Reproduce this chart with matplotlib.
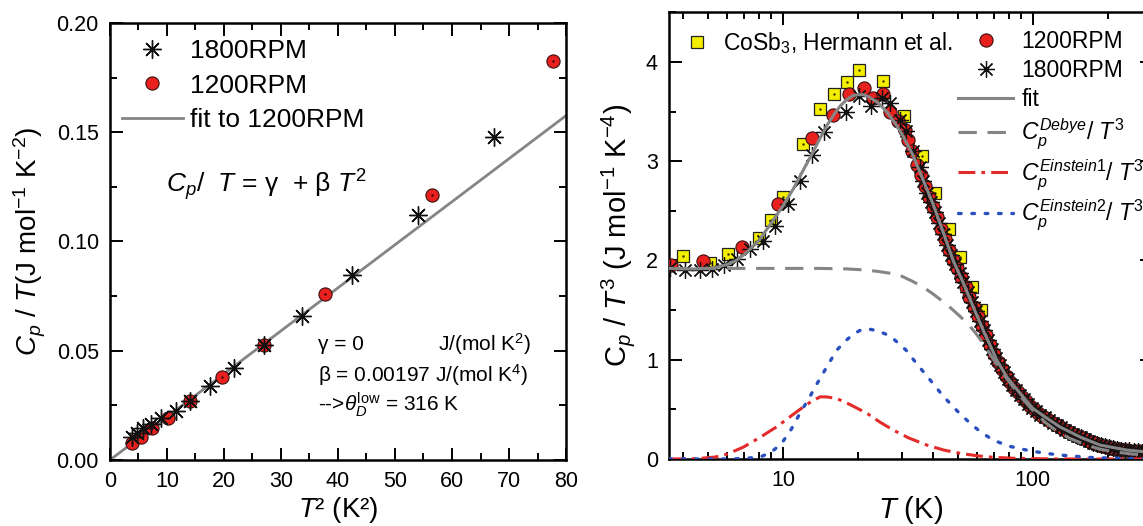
import matplotlib
matplotlib.use("Agg")
import matplotlib.pyplot as plt
from matplotlib.ticker import (MultipleLocator, LogLocator, NullFormatter, FixedLocator,
                               FixedFormatter, FormatStrFormatter)

plt.rcParams["font.family"] = ["Liberation Sans", "DejaVu Sans"]
plt.rcParams["mathtext.fontset"] = "custom"
plt.rcParams["mathtext.rm"] = "Liberation Sans"
plt.rcParams["mathtext.it"] = "Liberation Sans:italic"
plt.rcParams["mathtext.bf"] = "Liberation Sans:bold"
plt.rcParams["axes.linewidth"] = 1.8

# Left panel: Cp/T against T^2 at low temperature
t2_1800 = [3.9, 4.8, 5.8, 7.2, 9.0, 11.6, 14.0, 17.5, 21.8, 27.0, 33.7, 42.5, 54.1, 67.4]
cpt_1800 = [0.0105, 0.0122, 0.0145, 0.0165, 0.0190, 0.0226, 0.0271, 0.0339, 0.0421,
            0.0526, 0.0660, 0.0846, 0.1123, 0.1477]
t2_1200 = [3.9, 5.5, 7.4, 10.2, 14.0, 19.6, 27.1, 37.8, 56.5, 77.8]
cpt_1200 = [0.0077, 0.0107, 0.0145, 0.0194, 0.0270, 0.0378, 0.0526, 0.0758, 0.1212, 0.1828]
fit_t2 = [0.0, 80.0]
fit_cpt = [0.0, 0.1576]

# Right panel: Cp/T^3 against T
t_hermann = [4.0, 5.1, 6.05, 8.0, 9.0, 10.0, 12.0, 14.1, 15.95, 18.1, 20.2, 25.1, 30.4,
             35.9, 40.6, 46.0, 51.2, 57.0, 61.9]
c_hermann = [2.04, 1.97, 2.07, 2.23, 2.41, 2.64, 3.17, 3.53, 3.68, 3.80, 3.92, 3.81, 3.46,
             3.05, 2.68, 2.32, 2.03, 1.73, 1.50]

t_1200 = [3.55, 4.8, 6.85, 9.6, 13.1, 15.85, 18.3, 21.1, 23.0, 25.1, 26.9, 29.0, 30.8, 31.8,
          33.0, 34.3, 35.6, 37.0, 38.4, 39.9, 41.4, 43.0, 44.6, 46.3, 48.1, 49.9, 51.8, 53.8,
          55.8, 57.9, 60.1, 62.4, 64.8, 67.3, 69.8, 72.5, 75.2, 78.1, 81.1, 84.2, 87.4, 90.7,
          94.1, 97.7, 101.4, 105.3, 109.3, 113.4, 117.7, 122.2, 126.8, 131.6, 136.6, 141.8,
          147.2, 152.8, 158.6, 164.6, 170.9, 177.4, 184.1, 191.1, 198.4, 205.9, 213.7, 221.8,
          230.2, 239.0, 248.0, 257.5, 267.2, 277.4, 288.0, 299.0]
c_1200 = [1.95, 1.99, 2.14, 2.57, 3.23, 3.47, 3.68, 3.74, 3.64, 3.68, 3.50, 3.41, 3.31, 3.21,
          3.10, 2.96, 2.86, 2.75, 2.64, 2.54, 2.44, 2.32, 2.22, 2.11, 2.00, 1.92, 1.83, 1.73,
          1.63, 1.53, 1.44, 1.34, 1.25, 1.15, 1.06, 0.98, 0.91, 0.84, 0.78, 0.72, 0.67, 0.62,
          0.58, 0.53, 0.50, 0.46, 0.43, 0.41, 0.38, 0.355, 0.33, 0.305, 0.285, 0.265,
          0.245, 0.226, 0.208, 0.19, 0.173, 0.158, 0.143, 0.131, 0.121, 0.112, 0.104, 0.097,
          0.092, 0.088, 0.084, 0.080, 0.076, 0.073, 0.070, 0.067]

t_1800 = [3.52, 4.07, 4.64, 5.2, 5.83, 6.54, 7.4, 8.36, 9.31, 10.5, 11.66, 13.06, 14.54, 17.9,
          20.2, 22.5, 24.9, 26.9, 29.4, 31.2, 33.3, 35.4, 36.4, 37.7, 39.1, 40.6, 42.2, 43.8,
          45.5, 47.2, 49.0, 50.9, 52.8, 54.8, 56.9, 59.0, 61.3, 63.6, 66.0, 68.6, 71.2, 73.9,
          76.7, 79.6, 82.7, 85.8, 89.0, 92.4, 95.9, 99.6, 103.4, 107.3, 111.4, 115.6, 120.0,
          124.6, 129.3, 134.2, 139.3, 144.6, 150.1, 155.8, 161.7, 167.8, 174.2, 180.8, 187.7,
          194.8, 202.2, 209.9, 217.9, 226.2, 234.8, 243.7, 253.0, 262.6, 272.6, 283.0, 293.8]
c_1800 = [1.92, 1.905, 1.90, 1.915, 1.95, 2.01, 2.12, 2.20, 2.35, 2.57, 2.80, 3.06, 3.29, 3.50,
          3.66, 3.56, 3.64, 3.59, 3.42, 3.30, 3.105, 2.94, 2.80, 2.68, 2.59, 2.49, 2.38, 2.27,
          2.16, 2.06, 1.96, 1.87, 1.78, 1.68, 1.58, 1.49, 1.39, 1.30, 1.20, 1.11, 1.02, 0.95,
          0.875, 0.81, 0.75, 0.70, 0.645, 0.60, 0.555, 0.515, 0.48, 0.445, 0.42, 0.395, 0.365,
          0.34, 0.32, 0.295, 0.275, 0.255, 0.235, 0.217, 0.199, 0.181, 0.165, 0.15, 0.137,
          0.126, 0.116, 0.108, 0.10, 0.094, 0.09, 0.086, 0.082, 0.078, 0.075, 0.071, 0.068]

t_fit = [3.5, 4.0, 4.5, 5.0, 5.5, 6.0, 6.5, 7.0, 7.5, 8.0, 9.0, 10.0, 11.0, 12.0, 13.0, 14.0,
         15.0, 16.0, 17.0, 18.0, 19.0, 20.0, 21.0, 22.0, 24.0, 26.0, 28.0, 30.0, 33.0, 36.0,
         40.0, 44.0, 48.0, 53.0, 58.0, 64.0, 72.0, 79.0, 89.0, 100.0, 114.0, 128.0, 155.0,
         186.0, 238.0, 300.0]
c_fit = [1.92, 1.915, 1.915, 1.92, 1.935, 1.96, 2.0, 2.06, 2.13, 2.2, 2.38, 2.55, 2.72, 2.9,
         3.06, 3.22, 3.36, 3.47, 3.56, 3.62, 3.66, 3.67, 3.67, 3.65, 3.59, 3.5, 3.39, 3.27,
         3.07, 2.84, 2.56, 2.27, 2.0, 1.76, 1.52, 1.27, 0.99, 0.82, 0.66, 0.51, 0.41, 0.325,
         0.22, 0.14, 0.09, 0.065]

t_debye = [3.5, 5.0, 7.0, 10.0, 14.0, 18.0, 21.0, 24.0, 27.0, 30.0, 33.0, 36.5, 40.0, 43.5,
           47.0, 51.0, 55.0, 59.0, 63.0, 67.0, 71.0, 76.0, 82.0, 90.0, 100.0, 112.0, 125.0,
           140.0, 160.0, 185.0, 215.0, 250.0, 300.0]
c_debye = [1.92, 1.92, 1.92, 1.92, 1.92, 1.915, 1.905, 1.89, 1.87, 1.84, 1.79, 1.73, 1.66,
           1.59, 1.52, 1.44, 1.36, 1.27, 1.17, 1.07, 0.97, 0.86, 0.75, 0.62, 0.49, 0.37,
           0.28, 0.21, 0.15, 0.10, 0.07, 0.05, 0.033]

t_ein1 = [3.5, 4.5, 5.36, 6.0, 6.95, 8.0, 9.46, 11.0, 12.1, 13.0, 14.1, 15.0, 16.4, 18.5,
          21.7, 24.5, 27.7, 32.0, 37.7, 44.0, 51.2, 60.0, 69.5, 85.0, 110.0, 150.0, 300.0]
c_ein1 = [0.0, 0.003, 0.02, 0.05, 0.12, 0.21, 0.325, 0.45, 0.526, 0.58, 0.626, 0.625, 0.61,
          0.55, 0.46, 0.37, 0.29, 0.21, 0.14, 0.09, 0.057, 0.032, 0.017, 0.007, 0.002, 0.0, 0.0]

t_ein2 = [3.5, 6.0, 7.0, 8.11, 9.0, 9.9, 10.8, 11.7, 12.7, 13.7, 15.0, 16.4, 17.8, 19.2, 20.5,
          22.0, 24.0, 25.7, 27.7, 31.0, 34.3, 39.0, 43.9, 50.0, 56.1, 62.0, 69.5, 80.0, 94.3,
          110.0, 128.5, 170.0, 250.0, 300.0]
c_ein2 = [0.0, 0.0, 0.005, 0.02, 0.07, 0.16, 0.30, 0.46, 0.61, 0.76, 0.93, 1.095, 1.19, 1.26,
          1.30, 1.31, 1.29, 1.26, 1.21, 1.10, 0.96, 0.79, 0.63, 0.48, 0.36, 0.27, 0.19, 0.13,
          0.09, 0.06, 0.04, 0.015, 0.003, 0.0]

RED = "#e8211e"
YELLOW = "#f4ee00"
GRAY = "#858585"
STAR = (8, 2, 0)


def style_ticks(ax):
    ax.tick_params(which="both", direction="in", top=True, right=True,
                   labelsize=15.5, pad=8, width=1.4)
    ax.tick_params(which="major", length=9)
    ax.tick_params(which="minor", length=5)


fig = plt.figure(figsize=(11.43, 5.26), dpi=100)
ax1 = fig.add_axes([0.0962, 0.1255, 0.399, 0.8308])
ax2 = fig.add_axes([0.5853, 0.1274, 0.4226, 0.8492])

# ---- left panel ----
ax1.plot(fit_t2, fit_cpt, color=GRAY, lw=2, zorder=2, label="fit to 1200RPM")
ax1.plot(t2_1200, cpt_1200, ls="none", marker="o", ms=9.5, mfc=RED, mec="#3a1010",
         mew=0.8, zorder=3, label="1200RPM")
ax1.plot(t2_1200, cpt_1200, ls="none", marker=".", ms=1.5, color="#400000", zorder=4)
ax1.plot(t2_1800, cpt_1800, ls="none", marker=STAR, ms=13, mec="#111111", mew=1.0,
         zorder=5, label="1800RPM")
ax1.set_xlim(0, 80)
ax1.set_ylim(0, 0.20)
ax1.xaxis.set_major_locator(MultipleLocator(10))
ax1.xaxis.set_minor_locator(MultipleLocator(5))
ax1.yaxis.set_major_locator(MultipleLocator(0.05))
ax1.yaxis.set_minor_locator(MultipleLocator(0.025))
ax1.yaxis.set_major_formatter(FormatStrFormatter("%.2f"))
style_ticks(ax1)
ax1.set_xlabel("$T$\u00b2 (K\u00b2)", fontsize=20, labelpad=2)
ax1.set_ylabel(r"$C_p$ / $T$(J mol$^{-1}$ K$^{-2}$)", fontsize=20, labelpad=6)

h, l = ax1.get_legend_handles_labels()
order = [2, 1, 0]
ax1.legend([h[i] for i in order], [l[i] for i in order], loc="upper left",
           bbox_to_anchor=(0.0, 0.99), frameon=False, fontsize=19, handlelength=2.3,
           handletextpad=0.3, labelspacing=0.39, borderaxespad=0.3, borderpad=0.15)

ax1.text(9.8, 0.126, r"$C_p$/  $T$ = $\mathrm{\gamma}$  + $\mathrm{\beta}$ $T^2$",
         fontsize=19, va="center", ha="left")
ax1.text(36.5, 0.053, "\u03b3 = 0", fontsize=15, va="center", ha="left")
ax1.text(57.5, 0.053, r"J/(mol K$^2$)", fontsize=15, va="center", ha="left")
ax1.text(36.5, 0.039, "\u03b2 = 0.00197 J/(mol K$^4$)", fontsize=15, va="center",
         ha="left")
ax1.text(36.5, 0.0255, r"-->$\theta_D^{\mathrm{low}}$ = 316 K", fontsize=15,
         va="center", ha="left")

# ---- right panel ----
ax2.plot(t_hermann, c_hermann, ls="none", marker="s", ms=8, mfc=YELLOW, mec="#222222",
         mew=0.9, zorder=3, label="CoSb$_3$, Hermann et al.")
ax2.plot(t_hermann, c_hermann, ls="none", marker=".", ms=1.5, color="#333300", zorder=3.1)
ax2.plot(t_1200, c_1200, ls="none", marker="o", ms=9.5, mfc=RED, mec="#3a1010", mew=0.8,
         zorder=4, label="1200RPM")
ax2.plot(t_1800, c_1800, ls="none", marker=STAR, ms=12, mec="#111111", mew=0.9, zorder=5,
         label="1800RPM")
ax2.plot(t_fit, c_fit, color=GRAY, lw=2.2, zorder=6, label="fit")
ax2.plot(t_debye, c_debye, color=GRAY, lw=2.2, ls=(0, (6, 3.5)), zorder=6,
         label=r"$C_p^{Debye}$/ $T^3$")
ax2.plot(t_ein1, c_ein1, color="#e42b2b", lw=2.2, ls=(0, (5.5, 2, 1.2, 2)), zorder=6,
         label=r"$C_p^{Einstein1}$/ $T^3$")
ax2.plot(t_ein2, c_ein2, color="#2a50c0", lw=2.4, ls=(0, (0.8, 3.2)),
         dash_capstyle="round", zorder=6, label=r"$C_p^{Einstein2}$/ $T^3$")
ax2.set_xscale("log")
ax2.set_xlim(3.5, 300)
ax2.set_ylim(0, 4.5)
ax2.xaxis.set_major_locator(FixedLocator([10, 100]))
ax2.xaxis.set_major_formatter(FixedFormatter(["10", "100"]))
ax2.xaxis.set_minor_locator(LogLocator(base=10, subs=range(2, 10)))
ax2.xaxis.set_minor_formatter(NullFormatter())
ax2.yaxis.set_major_locator(MultipleLocator(1))
ax2.yaxis.set_minor_locator(MultipleLocator(0.5))
style_ticks(ax2)
ax2.set_xlabel("$T$ (K)", fontsize=21, labelpad=2)
ax2.set_ylabel(r"C$_p$ / $T^3$ (J mol$^{-1}$ K$^{-4}$)", fontsize=21, labelpad=6)

h, l = ax2.get_legend_handles_labels()
leg1 = ax2.legend(h[:1], l[:1], loc="upper left", bbox_to_anchor=(0.015, 0.975),
                  frameon=False, fontsize=16.5, handlelength=1.2, handletextpad=0.55,
                  borderaxespad=0.2, borderpad=0.1)
ax2.add_artist(leg1)
ax2.legend(h[1:], l[1:], loc="upper left", bbox_to_anchor=(0.585, 0.975), frameon=False,
           fontsize=16.5, handlelength=2.4, handletextpad=0.35, labelspacing=0.25,
           borderaxespad=0.2, borderpad=0.1)

fig.savefig("out.png", dpi=100)
